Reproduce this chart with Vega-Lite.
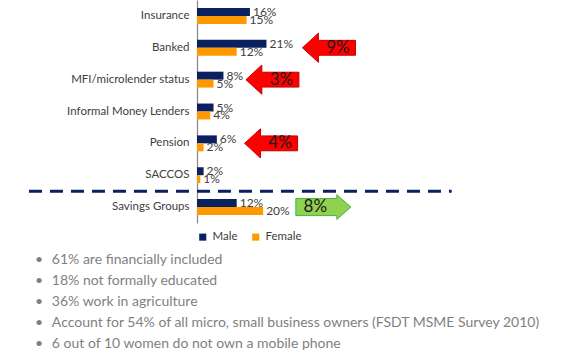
{
  "$schema": "https://vega.github.io/schema/vega-lite/v6.json",
  "width": 258,
  "height": 223,
  "padding": {"left": 27, "top": 0, "right": 0, "bottom": 0},
  "autosize": {"type": "pad"},
  "config": {"view": {"stroke": null}, "font": "Lato"},
  "datasets": {
    "bars": [
      {"category": "Insurance", "gender": "Male", "value": 16, "label": "16%"},
      {"category": "Insurance", "gender": "Female", "value": 15, "label": "15%"},
      {"category": "Banked", "gender": "Male", "value": 21, "label": "21%"},
      {"category": "Banked", "gender": "Female", "value": 12, "label": "12%"},
      {"category": "MFI/microlender status", "gender": "Male", "value": 8, "label": "8%"},
      {"category": "MFI/microlender status", "gender": "Female", "value": 5, "label": "5%"},
      {"category": "Informal Money Lenders", "gender": "Male", "value": 5, "label": "5%"},
      {"category": "Informal Money Lenders", "gender": "Female", "value": 4, "label": "4%"},
      {"category": "Pension", "gender": "Male", "value": 6, "label": "6%"},
      {"category": "Pension", "gender": "Female", "value": 2, "label": "2%"},
      {"category": "SACCOS", "gender": "Male", "value": 2, "label": "2%"},
      {"category": "SACCOS", "gender": "Female", "value": 1, "label": "1%"},
      {"category": "Savings Groups", "gender": "Male", "value": 12, "label": "12%"},
      {"category": "Savings Groups", "gender": "Female", "value": 20, "label": "20%"}
    ],
    "arrows": [
      {"category": "Banked", "gap": "9%"},
      {"category": "MFI/microlender status", "gap": "3%"},
      {"category": "Pension", "gap": "4%"},
      {"category": "Savings Groups", "gap": "8%"}
    ],
    "divider": [{"category": "Savings Groups"}]
  },
  "title": {
    "text": [
      "•\u2002\u200961% are financially included",
      "•\u2002\u200918% not formally educated",
      "•\u2002\u200936% work in agriculture",
      "•\u2002\u2009Account for 54% of all micro, small business owners (FSDT MSME Survey 2010)",
      "•\u2002\u20096 out of 10 women do not own a mobile phone"
    ],
    "orient": "bottom",
    "anchor": "start",
    "frame": "group",
    "dx": -162,
    "fontSize": 14,
    "fontWeight": "normal",
    "color": "#7f7f7f",
    "lineHeight": 21,
    "offset": 10,
    "font": "Lato"
  },
  "encoding": {
    "y": {
      "field": "category",
      "type": "nominal",
      "sort": ["Insurance", "Banked", "MFI/microlender status", "Informal Money Lenders", "Pension", "SACCOS", "Savings Groups"],
      "scale": {"paddingInner": 0.5, "paddingOuter": 0.25},
      "axis": {"title": null, "ticks": false, "domainColor": "#868686", "domainWidth": 1.2, "labelFontSize": 11.5, "labelColor": "#404040", "labelPadding": 8}
    }
  },
  "layer": [
    {
      "data": {"name": "bars"},
      "mark": {"type": "bar"},
      "encoding": {
        "x": {"field": "value", "type": "quantitative", "scale": {"domain": [0, 78], "nice": false}, "axis": null},
        "yOffset": {"field": "gender", "type": "nominal", "sort": ["Male", "Female"]},
        "color": {
          "field": "gender", "type": "nominal",
          "scale": {"domain": ["Male", "Female"], "range": ["#0a2060", "#ff9900"]},
          "legend": {"orient": "bottom", "direction": "horizontal", "title": null, "symbolType": "square", "symbolSize": 50, "labelFontSize": 11.5, "labelColor": "#404040", "columnPadding": 12, "offset": 8}
        }
      }
    },
    {
      "data": {"name": "bars"},
      "mark": {"type": "text", "align": "left", "baseline": "middle", "dx": 3, "fontSize": 12, "color": "#404040"},
      "encoding": {
        "x": {"field": "value", "type": "quantitative"},
        "yOffset": {"field": "gender", "type": "nominal", "sort": ["Male", "Female"]},
        "text": {"field": "label"}
      }
    },
    {
      "data": {"name": "divider"},
      "mark": {"type": "rule", "color": "#0a2060", "strokeWidth": 3, "strokeDash": [13, 8]},
      "encoding": {
        "x": {"datum": -50.8, "type": "quantitative"},
        "x2": {"datum": 77},
        "y": {"field": "category", "type": "nominal", "bandPosition": -0.5}
      }
    },
    {
      "data": {"name": "arrows"},
      "transform": [{"filter": "datum.category === 'Banked'"}],
      "encoding": {"x": {"datum": 39.9, "type": "quantitative"}},
      "layer": [
        {"mark": {"type": "point", "shape": "M -1 0 L -0.4 -0.55 L -0.4 -0.28 L 1 -0.28 L 1 0.28 L -0.4 0.28 L -0.4 0.55 Z", "filled": true, "fill": "#ff0000", "stroke": "#c00000", "strokeWidth": 1, "size": 2809, "opacity": 1}},
        {"mark": {"type": "text", "fontSize": 17, "color": "#1a1a1a", "dx": 9, "baseline": "middle"}, "encoding": {"text": {"field": "gap"}}}
      ]
    },
    {
      "data": {"name": "arrows"},
      "transform": [{"filter": "datum.category === 'MFI/microlender status'"}],
      "encoding": {"x": {"datum": 22.8, "type": "quantitative"}},
      "layer": [
        {"mark": {"type": "point", "shape": "M -1 0 L -0.4 -0.55 L -0.4 -0.28 L 1 -0.28 L 1 0.28 L -0.4 0.28 L -0.4 0.55 Z", "filled": true, "fill": "#ff0000", "stroke": "#c00000", "strokeWidth": 1, "size": 2809, "opacity": 1}},
        {"mark": {"type": "text", "fontSize": 17, "color": "#1a1a1a", "dx": 9, "baseline": "middle"}, "encoding": {"text": {"field": "gap"}}}
      ]
    },
    {
      "data": {"name": "arrows"},
      "transform": [{"filter": "datum.category === 'Pension'"}],
      "encoding": {"x": {"datum": 22.4, "type": "quantitative"}},
      "layer": [
        {"mark": {"type": "point", "shape": "M -1 0 L -0.4 -0.55 L -0.4 -0.28 L 1 -0.28 L 1 0.28 L -0.4 0.28 L -0.4 0.55 Z", "filled": true, "fill": "#ff0000", "stroke": "#c00000", "strokeWidth": 1, "size": 2809, "opacity": 1}},
        {"mark": {"type": "text", "fontSize": 17, "color": "#1a1a1a", "dx": 9, "baseline": "middle"}, "encoding": {"text": {"field": "gap"}}}
      ]
    },
    {
      "data": {"name": "arrows"},
      "transform": [{"filter": "datum.category === 'Savings Groups'"}],
      "encoding": {"x": {"datum": 38.2, "type": "quantitative"}},
      "layer": [
        {"mark": {"type": "point", "shape": "M 1 0 L 0.49 -0.45 L 0.49 -0.31 L -1 -0.31 L -1 0.31 L 0.49 0.31 L 0.49 0.45 Z", "filled": true, "fill": "#92d050", "stroke": "#3cb54a", "strokeWidth": 1, "size": 3025, "opacity": 1}},
        {"mark": {"type": "text", "fontSize": 17, "color": "#1a1a1a", "dx": -8, "baseline": "middle"}, "encoding": {"text": {"field": "gap"}}}
      ]
    }
  ]
}
